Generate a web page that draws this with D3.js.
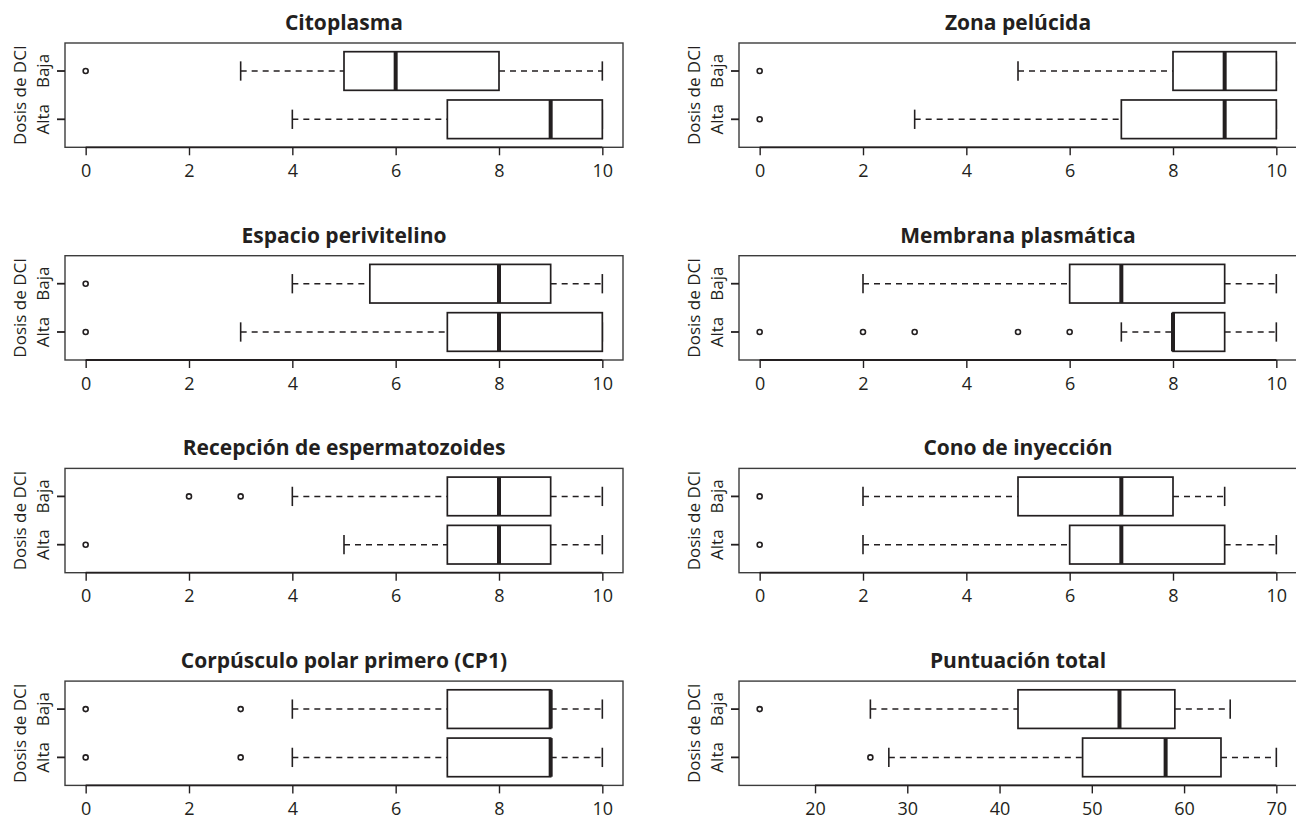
<!DOCTYPE html>
<html>
<head>
<meta charset="utf-8">
<script src="https://cdn.jsdelivr.net/npm/d3@7"></script>
<style>
  body { margin: 0; background: #fff; }
  svg text { font-family: "Open Sans", sans-serif; fill: #231f20; }
  .title { font-weight: 700; font-size: 21px; }
  .ylab { font-size: 17px; }
</style>
</head>
<body>
<div id="chart"></div>
<script>
// panel titles, left column then right column, row by row
var titles = [
  "Citoplasma", "Zona pelúcida",
  "Espacio perivitelino", "Membrana plasmática",
  "Recepción de espermatozoides", "Cono de inyección",
  "Corpúsculo polar primero (CP1)", "Puntuación total"
];
var groups = ["Baja", "Alta"];
var yLabel = "Dosis de DCI";

// box statistics, each entry is [Baja, Alta]
var whiskerLow  = [[3, 4], [5, 3], [4, 3], [2, 7], [4, 5], [2, 2], [4, 4], [26, 28]];
var q1          = [[5, 7], [8, 7], [5.5, 7], [6, 8], [7, 7], [5, 6], [7, 7], [42, 49]];
var median      = [[6, 9], [9, 9], [8, 8], [7, 8], [8, 8], [7, 7], [9, 9], [53, 58]];
var q3          = [[8, 10], [10, 10], [9, 10], [9, 9], [9, 9], [8, 9], [9, 9], [59, 64]];
var whiskerHigh = [[10, 10], [10, 10], [10, 10], [10, 10], [10, 10], [9, 10], [10, 10], [65, 70]];
var outliers = [
  [[0], []], [[0], [0]], [[0], [0]], [[], [0, 2, 3, 5, 6]],
  [[2, 3], [0]], [[0], [0]], [[0, 3], [0, 3]], [[14], [26]]
];

var ticksScore = [0, 2, 4, 6, 8, 10];
var ticksTotal = [20, 30, 40, 50, 60, 70];

var W = 1296, H = 822;
var frameW = 558, frameH = 104.3;
var colStep = 674, rowStep = 212.7;
var left0 = 65, top0 = 43;
var ink = "#231f20";

var svg = d3.select("#chart").append("svg")
  .attr("width", W)
  .attr("height", H);

function drawPanel(i) {
  var col = i % 2, row = Math.floor(i / 2);
  var g = svg.append("g")
    .attr("transform", "translate(" + (left0 + col * colStep) + "," + (top0 + row * rowStep) + ")");

  // R style range: data extent widened by 4% each side
  var all = [];
  for (var k = 0; k < 2; k++) {
    all.push(whiskerLow[i][k], whiskerHigh[i][k]);
    all = all.concat(outliers[i][k]);
  }
  var lo = d3.min(all), hi = d3.max(all), pad = (hi - lo) * 0.04;
  var x = d3.scaleLinear().domain([lo - pad, hi + pad]).range([0, frameW]);
  // Alta sits at 1, Baja at 2
  var y = d3.scaleLinear().domain([0.42, 2.58]).range([frameH, 0]);
  var pos = function(k) { return y(2 - k); };
  var boxH = y(0) - y(0.8);
  var ticks = (i == 7) ? ticksTotal : ticksScore;

  // title
  g.append("text")
    .attr("class", "title")
    .attr("x", frameW / 2)
    .attr("y", -13)
    .attr("text-anchor", "middle")
    .text(titles[i]);

  // frame
  g.append("rect")
    .attr("width", frameW)
    .attr("height", frameH)
    .attr("fill", "none")
    .attr("stroke", "#3c3c3c")
    .attr("stroke-width", 1.4);

  // x axis
  var xAxis = d3.axisBottom(x).tickValues(ticks).tickSize(8).tickPadding(9).tickSizeOuter(0);
  var ax = g.append("g")
    .attr("transform", "translate(0," + frameH + ")")
    .call(xAxis);
  ax.select(".domain").remove();
  ax.append("line")
    .attr("x1", x(ticks[0])).attr("x2", x(ticks[ticks.length - 1]))
    .attr("stroke", ink).attr("stroke-width", 1.8);
  ax.selectAll(".tick line").attr("stroke", ink).attr("stroke-width", 1.4);
  ax.selectAll(".tick text")
    .attr("fill", ink)
    .style("font-family", "'Open Sans', sans-serif")
    .style("font-size", "18px");

  // y axis ticks and group labels
  groups.forEach(function(name, k) {
    g.append("line")
      .attr("x1", -8).attr("x2", 0)
      .attr("y1", pos(k)).attr("y2", pos(k))
      .attr("stroke", ink).attr("stroke-width", 1.8);
    g.append("text")
      .attr("class", "ylab")
      .attr("transform", "translate(-16," + pos(k) + ") rotate(-90)")
      .attr("text-anchor", "middle")
      .text(name);
  });
  g.append("text")
    .attr("class", "ylab")
    .attr("transform", "translate(-39," + (frameH / 2) + ") rotate(-90)")
    .attr("text-anchor", "middle")
    .text(yLabel);

  // boxes
  var box = g.selectAll(".box")
    .data([0, 1])
    .enter().append("g")
    .attr("class", "box");

  // dashed whiskers
  box.append("line")
    .attr("x1", function(k) { return x(whiskerLow[i][k]); })
    .attr("x2", function(k) { return x(q1[i][k]); })
    .attr("y1", pos).attr("y2", pos)
    .attr("stroke", ink).attr("stroke-width", 1.5)
    .attr("stroke-dasharray", "6,5");
  box.append("line")
    .attr("x1", function(k) { return x(q3[i][k]); })
    .attr("x2", function(k) { return x(whiskerHigh[i][k]); })
    .attr("y1", pos).attr("y2", pos)
    .attr("stroke", ink).attr("stroke-width", 1.5)
    .attr("stroke-dasharray", "6,5");

  // staples
  [whiskerLow, whiskerHigh].forEach(function(w) {
    box.append("line")
      .attr("x1", function(k) { return x(w[i][k]); })
      .attr("x2", function(k) { return x(w[i][k]); })
      .attr("y1", function(k) { return pos(k) - boxH / 4; })
      .attr("y2", function(k) { return pos(k) + boxH / 4; })
      .attr("stroke", ink).attr("stroke-width", 1.6);
  });

  box.append("rect")
    .attr("x", function(k) { return x(q1[i][k]); })
    .attr("width", function(k) { return x(q3[i][k]) - x(q1[i][k]); })
    .attr("y", function(k) { return pos(k) - boxH / 2; })
    .attr("height", boxH)
    .attr("fill", "#fff")
    .attr("stroke", ink)
    .attr("stroke-width", 1.7);

  box.append("line")
    .attr("x1", function(k) { return x(median[i][k]); })
    .attr("x2", function(k) { return x(median[i][k]); })
    .attr("y1", function(k) { return pos(k) - boxH / 2; })
    .attr("y2", function(k) { return pos(k) + boxH / 2; })
    .attr("stroke", ink).attr("stroke-width", 4);

  // outliers
  box.each(function(k) {
    d3.select(this).selectAll("circle")
      .data(outliers[i][k])
      .enter().append("circle")
      .attr("cx", function(d) { return x(d); })
      .attr("cy", pos(k))
      .attr("r", 2.5)
      .attr("fill", "none")
      .attr("stroke", ink)
      .attr("stroke-width", 1.6);
  });
}

for (var i = 0; i < titles.length; i++) {
  drawPanel(i);
}
</script>
</body>
</html>
